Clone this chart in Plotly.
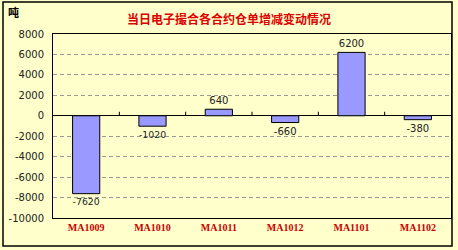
import plotly.graph_objects as go

categories = ["MA1009", "MA1010", "MA1011", "MA1012", "MA1101", "MA1102"]
values = [-7620, -1020, 640, -660, 6200, -380]
value_labels = ["-7620", "-1020", "640", "-660", "6200", "-380"]
y_tickvals = [8000, 6000, 4000, 2000, 0, -2000, -4000, -6000, -8000, -10000]
y_ticktext = ["8000", "6000", "4000", "2000", "0", "-2000", "-4000", "-6000", "-8000", "-10000"]

title_text = "当日电子撮合各合约仓单增减变动情况"
unit_text = "吨"

BG = "#FFFFCC"
W, H = 458, 250
L, R, T, B = 53, 7, 34, 32
pw, ph = W - L - R, H - T - B

fig = go.Figure()
fig.add_trace(go.Bar(
    x=categories, y=values, width=0.41,
    marker=dict(color="#9999FF", line=dict(color="#000000", width=1)),
    text=value_labels, textposition="outside", cliponaxis=False,
    textfont=dict(family="DejaVu Sans", size=10, color="#222222"),
))

shapes = []
# small tick marks on the zero line at category boundaries
for i in range(len(categories) - 1):
    shapes.append(dict(type="line", xref="x", yref="y", x0=i + 0.5, x1=i + 0.5,
                       ysizemode="pixel", yanchor=0, y0=0, y1=4,
                       line=dict(color="#000000", width=1)))
# outer frame
shapes.append(dict(type="rect", xref="paper", yref="paper",
                   x0=(3 - L) / pw, x1=(452 - L) / pw,
                   y0=(H - B - 246) / ph, y1=(H - B - 2) / ph,
                   line=dict(color="#000000", width=1.5), layer="below"))

fig.update_layout(
    width=W, height=H,
    margin=dict(l=L, r=R, t=T, b=B),
    paper_bgcolor=BG, plot_bgcolor=BG,
    showlegend=False,
    shapes=shapes,
    xaxis=dict(
        type="category", showgrid=False, ticks="",
        showline=True, linecolor="#000000", linewidth=1, mirror=True,
        tickfont=dict(family="Liberation Serif", size=10, color="#CC0000", weight="bold"),
        zeroline=False,
    ),
    yaxis=dict(
        range=[-10000, 8000], tickvals=y_tickvals, ticktext=y_ticktext,
        showgrid=True, gridcolor="#999999", griddash="4px,3px", gridwidth=1,
        zeroline=True, zerolinecolor="#000000", zerolinewidth=1,
        showline=True, linecolor="#000000", linewidth=1, mirror=True,
        ticks="", ticklabelstandoff=6,
        tickfont=dict(family="DejaVu Sans", size=10, color="#222222"),
    ),
    annotations=[
        dict(text=title_text, xref="paper", yref="paper",
             x=(229 - L) / pw, y=(H - B - 18) / ph, xanchor="center", yanchor="middle",
             showarrow=False,
             font=dict(family="Noto Sans CJK SC", size=12, color="#DD0000", weight="bold")),
        dict(text=unit_text, xref="paper", yref="paper",
             x=(6 - L) / pw, y=(H - B - 12) / ph, xanchor="left", yanchor="middle",
             showarrow=False,
             font=dict(family="Noto Sans CJK SC", size=11, color="#000000", weight="bold")),
    ],
)

fig.write_html("out.html")
